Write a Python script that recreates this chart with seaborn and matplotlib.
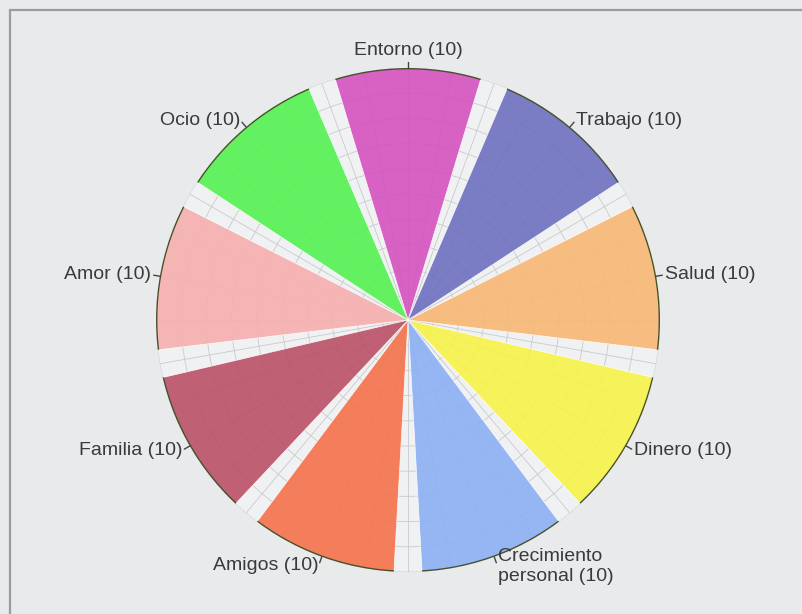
import numpy as np
import matplotlib
matplotlib.use("Agg")
import matplotlib.pyplot as plt
import seaborn as sns
from matplotlib.lines import Line2D

# wheel of life, one slice per area, clockwise from the top
categories = ["Entorno", "Trabajo", "Salud", "Dinero", "Crecimiento\npersonal",
              "Amigos", "Familia", "Amor", "Ocio"]
values = [10, 10, 10, 10, 10, 10, 10, 10, 10]
colors = ["#d552bf", "#6e70bf", "#f8b874", "#f7f348", "#8caff4",
          "#f5724b", "#bb5066", "#f7afaf", "#55f251"]
max_value = 10

sns.set_theme(style="darkgrid")
plt.rcParams["font.family"] = ["Liberation Sans", "DejaVu Sans"]

fig = plt.figure(figsize=(8.03, 6.14), dpi=100)
fig.patch.set_facecolor("#e9eaec")

# frame line on the left and top, as in the source screenshot
fig.add_artist(Line2D([0.0125, 0.0125], [0.0, 0.984], color="#9a9c9f", lw=1.6))
fig.add_artist(Line2D([0.0125, 1.0], [0.984, 0.984], color="#9a9c9f", lw=1.6))

ax = fig.add_axes([0.1943, 0.0684, 0.6276, 0.8208], projection="polar")
ax.set_facecolor("#f0f1f3")
ax.set_theta_zero_location("N")
ax.set_theta_direction(-1)

n = len(categories)
step = 2 * np.pi / n
theta = np.arange(n) * step
width = step * 0.84

ax.bar(theta, values, width=width, color=colors, alpha=0.9,
       edgecolor="white", linewidth=0.5, zorder=2)

# dark outer rim on each slice
for t, v in zip(theta, values):
    arc = np.linspace(t - width / 2, t + width / 2, 60)
    ax.plot(arc, np.full_like(arc, v), color="#45522a", lw=2.0, zorder=3,
            solid_capstyle="butt")

ax.set_ylim(0, max_value)
ax.set_yticks(np.arange(1, max_value + 1))
ax.set_yticklabels([])
ax.set_xticks(np.deg2rad(np.arange(0, 360, 10)))
ax.set_xticklabels([])
ax.grid(True, color="#c9cacc", linewidth=0.6)
for line in ax.get_xgridlines() + ax.get_ygridlines():
    line.set_zorder(1)
ax.spines["polar"].set_visible(False)

# labels with small tick marks at the rim
for t, cat, v in zip(theta, categories, values):
    ax.plot([t, t], [max_value, max_value * 1.025], color="#444444", lw=1.0,
            zorder=4, clip_on=False)
    s, c = np.sin(t), np.cos(t)
    if s > 0.1:
        ha = "left"
    elif s < -0.1:
        ha = "right"
    else:
        ha = "center"
    va = "bottom" if c > 0.95 else "center"
    r = max_value * 1.035
    label = f"{cat} ({v})"
    if "\n" in cat:
        r = max_value * 1.04
    ax.text(t, r, label, ha=ha, va=va, fontsize=14, color="#3a3a3a",
            clip_on=False)

fig.savefig("out.png", dpi=100, facecolor=fig.get_facecolor())
